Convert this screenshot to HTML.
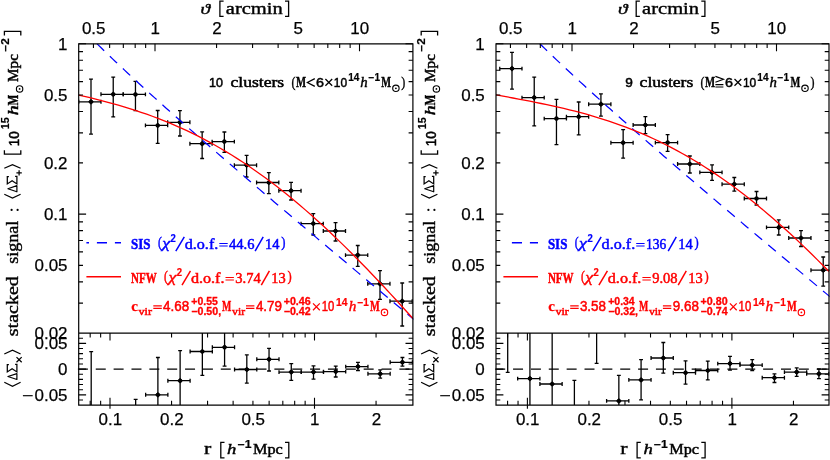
<!DOCTYPE html>
<html><head><meta charset="utf-8"><title>stacked signal</title>
<style>html,body{margin:0;padding:0;background:#fff}svg{display:block}</style></head>
<body>
<svg width="830" height="460" viewBox="0 0 830 460">
<rect width="830" height="460" fill="#fff"/>
<g opacity="0.999">
<clipPath id="c0a"><rect x="78.7" y="43.8" width="334.7" height="289.3"/></clipPath>
<clipPath id="c0b"><rect x="78.7" y="333.1" width="334.7" height="72"/></clipPath>
<line x1="77.9" y1="369.1" x2="412.9" y2="369.1" stroke="#000" stroke-width="1.2" stroke-dasharray="10 7.86"/>
<g clip-path="url(#c0a)">
<path d="M91 79.1L91 134.1M89.05 79.1L92.95 79.1M89.05 134.1L92.95 134.1M78.75 101.8L100.98 101.8M78.75 99.85L78.75 103.75M100.98 99.85L100.98 103.75" fill="none" stroke="#000" stroke-width="1.3"/>
<path d="M88.15 101.8L91 98.95L93.85 101.8L91 104.65Z" fill="#000"/><circle cx="91" cy="101.8" r="2" fill="#000"/>
<path d="M113.23 77.1L113.23 116.8M111.28 77.1L115.18 77.1M111.28 116.8L115.18 116.8M100.98 94.3L123.21 94.3M100.98 92.35L100.98 96.25M123.21 92.35L123.21 96.25" fill="none" stroke="#000" stroke-width="1.3"/>
<path d="M110.38 94.3L113.23 91.45L116.08 94.3L113.23 97.15Z" fill="#000"/><circle cx="113.23" cy="94.3" r="2" fill="#000"/>
<path d="M135.46 81.3L135.46 110.7M133.51 81.3L137.41 81.3M133.51 110.7L137.41 110.7M123.21 94.4L145.44 94.4M123.21 92.45L123.21 96.35M145.44 92.45L145.44 96.35" fill="none" stroke="#000" stroke-width="1.3"/>
<path d="M132.61 94.4L135.46 91.55L138.31 94.4L135.46 97.25Z" fill="#000"/><circle cx="135.46" cy="94.4" r="2" fill="#000"/>
<path d="M157.69 110.5L157.69 143.3M155.74 110.5L159.64 110.5M155.74 143.3L159.64 143.3M145.44 125.4L167.67 125.4M145.44 123.45L145.44 127.35M167.67 123.45L167.67 127.35" fill="none" stroke="#000" stroke-width="1.3"/>
<path d="M154.84 125.4L157.69 122.55L160.54 125.4L157.69 128.25Z" fill="#000"/><circle cx="157.69" cy="125.4" r="2" fill="#000"/>
<path d="M179.92 110.6L179.92 136M177.97 110.6L181.87 110.6M177.97 136L181.87 136M167.67 122.3L189.9 122.3M167.67 120.35L167.67 124.25M189.9 120.35L189.9 124.25" fill="none" stroke="#000" stroke-width="1.3"/>
<path d="M177.07 122.3L179.92 119.45L182.77 122.3L179.92 125.15Z" fill="#000"/><circle cx="179.92" cy="122.3" r="2" fill="#000"/>
<path d="M202.15 131.8L202.15 158.5M200.2 131.8L204.1 131.8M200.2 158.5L204.1 158.5M189.9 143.7L212.13 143.7M189.9 141.75L189.9 145.65M212.13 141.75L212.13 145.65" fill="none" stroke="#000" stroke-width="1.3"/>
<path d="M199.3 143.7L202.15 140.85L205 143.7L202.15 146.55Z" fill="#000"/><circle cx="202.15" cy="143.7" r="2" fill="#000"/>
<path d="M224.38 132L224.38 152.4M222.43 132L226.33 132M222.43 152.4L226.33 152.4M212.13 141.6L234.36 141.6M212.13 139.65L212.13 143.55M234.36 139.65L234.36 143.55" fill="none" stroke="#000" stroke-width="1.3"/>
<path d="M221.53 141.6L224.38 138.75L227.23 141.6L224.38 144.45Z" fill="#000"/><circle cx="224.38" cy="141.6" r="2" fill="#000"/>
<path d="M246.61 155.4L246.61 177M244.66 155.4L248.56 155.4M244.66 177L248.56 177M234.36 165.2L256.59 165.2M234.36 163.25L234.36 167.15M256.59 163.25L256.59 167.15" fill="none" stroke="#000" stroke-width="1.3"/>
<path d="M243.76 165.2L246.61 162.35L249.46 165.2L246.61 168.05Z" fill="#000"/><circle cx="246.61" cy="165.2" r="2" fill="#000"/>
<path d="M268.84 172.6L268.84 193.6M266.89 172.6L270.79 172.6M266.89 193.6L270.79 193.6M256.59 182.5L278.82 182.5M256.59 180.55L256.59 184.45M278.82 180.55L278.82 184.45" fill="none" stroke="#000" stroke-width="1.3"/>
<path d="M265.99 182.5L268.84 179.65L271.69 182.5L268.84 185.35Z" fill="#000"/><circle cx="268.84" cy="182.5" r="2" fill="#000"/>
<path d="M291.07 182.3L291.07 200M289.12 182.3L293.02 182.3M289.12 200L293.02 200M278.82 190.7L301.05 190.7M278.82 188.75L278.82 192.65M301.05 188.75L301.05 192.65" fill="none" stroke="#000" stroke-width="1.3"/>
<path d="M288.22 190.7L291.07 187.85L293.92 190.7L291.07 193.55Z" fill="#000"/><circle cx="291.07" cy="190.7" r="2" fill="#000"/>
<path d="M313.3 213.6L313.3 235M311.35 213.6L315.25 213.6M311.35 235L315.25 235M301.05 223.6L323.28 223.6M301.05 221.65L301.05 225.55M323.28 221.65L323.28 225.55" fill="none" stroke="#000" stroke-width="1.3"/>
<path d="M310.45 223.6L313.3 220.75L316.15 223.6L313.3 226.45Z" fill="#000"/><circle cx="313.3" cy="223.6" r="2" fill="#000"/>
<path d="M335.53 222.6L335.53 241M333.58 222.6L337.48 222.6M333.58 241L337.48 241M323.28 231L345.51 231M323.28 229.05L323.28 232.95M345.51 229.05L345.51 232.95" fill="none" stroke="#000" stroke-width="1.3"/>
<path d="M332.68 231L335.53 228.15L338.38 231L335.53 233.85Z" fill="#000"/><circle cx="335.53" cy="231" r="2" fill="#000"/>
<path d="M357.76 245.5L357.76 266.3M355.81 245.5L359.71 245.5M355.81 266.3L359.71 266.3M345.51 255.1L367.74 255.1M345.51 253.15L345.51 257.05M367.74 253.15L367.74 257.05" fill="none" stroke="#000" stroke-width="1.3"/>
<path d="M354.91 255.1L357.76 252.25L360.61 255.1L357.76 257.95Z" fill="#000"/><circle cx="357.76" cy="255.1" r="2" fill="#000"/>
<path d="M379.99 270.6L379.99 299.3M378.04 270.6L381.94 270.6M378.04 299.3L381.94 299.3M367.74 283.8L389.97 283.8M367.74 281.85L367.74 285.75M389.97 281.85L389.97 285.75" fill="none" stroke="#000" stroke-width="1.3"/>
<path d="M377.14 283.8L379.99 280.95L382.84 283.8L379.99 286.65Z" fill="#000"/><circle cx="379.99" cy="283.8" r="2" fill="#000"/>
<path d="M402.22 283L402.22 326M400.27 283L404.17 283M400.27 326L404.17 326M389.97 301.2L412.2 301.2M389.97 299.25L389.97 303.15M412.2 299.25L412.2 303.15" fill="none" stroke="#000" stroke-width="1.3"/>
<path d="M399.37 301.2L402.22 298.35L405.07 301.2L402.22 304.05Z" fill="#000"/><circle cx="402.22" cy="301.2" r="2" fill="#000"/>
</g>
<g clip-path="url(#c0b)">
<path d="M91.2 351.7L91.2 405.1M89.25 351.7L93.15 351.7" fill="none" stroke="#000" stroke-width="1.3"/>
<path d="M135.66 399.4L135.66 405.1M133.71 399.4L137.61 399.4" fill="none" stroke="#000" stroke-width="1.3"/>
<path d="M157.89 357.5L157.89 405.1M155.94 357.5L159.84 357.5M145.64 394.8L167.87 394.8M145.64 392.85L145.64 396.75M167.87 392.85L167.87 396.75" fill="none" stroke="#000" stroke-width="1.3"/>
<path d="M155.04 394.8L157.89 391.95L160.74 394.8L157.89 397.65Z" fill="#000"/><circle cx="157.89" cy="394.8" r="2" fill="#000"/>
<path d="M180.12 350.6L180.12 405.1M178.17 350.6L182.07 350.6M167.87 380.7L190.1 380.7M167.87 378.75L167.87 382.65M190.1 378.75L190.1 382.65" fill="none" stroke="#000" stroke-width="1.3"/>
<path d="M177.27 380.7L180.12 377.85L182.97 380.7L180.12 383.55Z" fill="#000"/><circle cx="180.12" cy="380.7" r="2" fill="#000"/>
<path d="M202.35 333.1L202.35 375.3M200.4 375.3L204.3 375.3M190.1 351.5L212.33 351.5M190.1 349.55L190.1 353.45M212.33 349.55L212.33 353.45" fill="none" stroke="#000" stroke-width="1.3"/>
<path d="M199.5 351.5L202.35 348.65L205.2 351.5L202.35 354.35Z" fill="#000"/><circle cx="202.35" cy="351.5" r="2" fill="#000"/>
<path d="M224.58 333.1L224.58 366.2M222.63 366.2L226.53 366.2M212.33 347.3L234.56 347.3M212.33 345.35L212.33 349.25M234.56 345.35L234.56 349.25" fill="none" stroke="#000" stroke-width="1.3"/>
<path d="M221.73 347.3L224.58 344.45L227.43 347.3L224.58 350.15Z" fill="#000"/><circle cx="224.58" cy="347.3" r="2" fill="#000"/>
<path d="M246.81 354.9L246.81 383.1M244.86 354.9L248.76 354.9M244.86 383.1L248.76 383.1M234.56 369.5L256.79 369.5M234.56 367.55L234.56 371.45M256.79 367.55L256.79 371.45" fill="none" stroke="#000" stroke-width="1.3"/>
<path d="M243.96 369.5L246.81 366.65L249.66 369.5L246.81 372.35Z" fill="#000"/><circle cx="246.81" cy="369.5" r="2" fill="#000"/>
<path d="M269.04 348.4L269.04 371M267.09 348.4L270.99 348.4M267.09 371L270.99 371M256.79 359.3L279.02 359.3M256.79 357.35L256.79 361.25M279.02 357.35L279.02 361.25" fill="none" stroke="#000" stroke-width="1.3"/>
<path d="M266.19 359.3L269.04 356.45L271.89 359.3L269.04 362.15Z" fill="#000"/><circle cx="269.04" cy="359.3" r="2" fill="#000"/>
<path d="M291.27 363.6L291.27 380.3M289.32 363.6L293.22 363.6M289.32 380.3L293.22 380.3M279.02 372.1L301.25 372.1M279.02 370.15L279.02 374.05M301.25 370.15L301.25 374.05" fill="none" stroke="#000" stroke-width="1.3"/>
<path d="M288.42 372.1L291.27 369.25L294.12 372.1L291.27 374.95Z" fill="#000"/><circle cx="291.27" cy="372.1" r="2" fill="#000"/>
<path d="M313.5 365.8L313.5 379.2M311.55 365.8L315.45 365.8M311.55 379.2L315.45 379.2M301.25 372.1L323.48 372.1M301.25 370.15L301.25 374.05M323.48 370.15L323.48 374.05" fill="none" stroke="#000" stroke-width="1.3"/>
<path d="M310.65 372.1L313.5 369.25L316.35 372.1L313.5 374.95Z" fill="#000"/><circle cx="313.5" cy="372.1" r="2" fill="#000"/>
<path d="M335.73 366.2L335.73 377M333.78 366.2L337.68 366.2M333.78 377L337.68 377M323.48 371.6L345.71 371.6M323.48 369.65L323.48 373.55M345.71 369.65L345.71 373.55" fill="none" stroke="#000" stroke-width="1.3"/>
<path d="M332.88 371.6L335.73 368.75L338.58 371.6L335.73 374.45Z" fill="#000"/><circle cx="335.73" cy="371.6" r="2" fill="#000"/>
<path d="M357.96 362.3L357.96 370.5M356.01 362.3L359.91 362.3M356.01 370.5L359.91 370.5M345.71 366.6L367.94 366.6M345.71 364.65L345.71 368.55M367.94 364.65L367.94 368.55" fill="none" stroke="#000" stroke-width="1.3"/>
<path d="M355.11 366.6L357.96 363.75L360.81 366.6L357.96 369.45Z" fill="#000"/><circle cx="357.96" cy="366.6" r="2" fill="#000"/>
<path d="M380.19 369.9L380.19 378.1M378.24 369.9L382.14 369.9M378.24 378.1L382.14 378.1M367.94 373.8L390.17 373.8M367.94 371.85L367.94 375.75M390.17 371.85L390.17 375.75" fill="none" stroke="#000" stroke-width="1.3"/>
<path d="M377.34 373.8L380.19 370.95L383.04 373.8L380.19 376.65Z" fill="#000"/><circle cx="380.19" cy="373.8" r="2" fill="#000"/>
<path d="M402.42 357.5L402.42 366.2M400.47 357.5L404.37 357.5M400.47 366.2L404.37 366.2M390.17 362.3L412.4 362.3M390.17 360.35L390.17 364.25M412.4 360.35L412.4 364.25" fill="none" stroke="#000" stroke-width="1.3"/>
<path d="M399.57 362.3L402.42 359.45L405.27 362.3L402.42 365.15Z" fill="#000"/><circle cx="402.42" cy="362.3" r="2" fill="#000"/>
</g>
<g clip-path="url(#c0a)">
<path d="M97.02 43.8L97.61 44.38L100.61 47.31L103.6 50.21L106.59 53.1L109.59 55.98L112.58 58.84L115.57 61.68L118.57 64.51L121.56 67.33L124.55 70.14L127.55 72.94L130.54 75.72L133.53 78.5L136.53 81.26L139.52 84.01L142.51 86.76L145.51 89.49L148.5 92.22L151.49 94.94L154.48 97.65L157.48 100.35L160.47 103.04L163.46 105.73L166.46 108.41L169.45 111.09L172.44 113.75L175.44 116.41L178.43 119.07L181.42 121.72L184.42 124.36L187.41 127L190.4 129.64L193.4 132.26L196.39 134.89L199.38 137.51L202.38 140.12L205.37 142.73L208.36 145.34L211.36 147.94L214.35 150.54L217.34 153.14L220.34 155.73L223.33 158.32L226.32 160.9L229.32 163.48L232.31 166.06L235.3 168.64L238.3 171.21L241.29 173.78L244.28 176.35L247.28 178.91L250.27 181.47L253.26 184.03L256.26 186.59L259.25 189.15L262.24 191.7L265.24 194.25L268.23 196.8L271.22 199.35L274.22 201.9L277.21 204.44L280.2 206.98L283.2 209.52L286.19 212.06L289.18 214.6L292.18 217.13L295.17 219.67L298.16 222.2L301.16 224.73L304.15 227.26L307.14 229.79L310.14 232.32L313.13 234.85L316.12 237.37L319.12 239.9L322.11 242.42L325.1 244.94L328.09 247.46L331.09 249.98L334.08 252.5L337.07 255.02L340.07 257.54L343.06 260.06L346.05 262.57L349.05 265.09L352.04 267.6L355.03 270.12L358.03 272.63L361.02 275.14L364.01 277.65L367.01 280.16L370 282.67L372.99 285.18L375.99 287.69L378.98 290.2L381.97 292.71L384.97 295.22L387.96 297.73L390.95 300.23L393.95 302.74L396.94 305.24L399.93 307.75L402.93 310.25L405.92 312.76L408.91 315.26L411.91 317.77L414.9 320.27" fill="none" stroke="#0000ff" stroke-width="1.25" stroke-dasharray="10 7.9"/>
<path d="M78.7 95.08L84.36 96.38L90.03 97.72L95.69 99.11L101.36 100.54L107.02 102.02L112.69 103.56L118.35 105.16L124.02 106.83L129.68 108.56L135.34 110.37L141.01 112.26L146.67 114.22L152.34 116.26L158 118.4L163.67 120.62L169.33 122.93L174.99 125.34L180.66 127.84L186.32 130.44L191.99 133.14L197.65 135.95L203.32 138.86L208.98 141.88L214.65 145L220.31 148.23L225.97 151.57L231.64 155.02L237.3 158.58L242.97 162.25L248.63 166.03L254.3 169.92L259.96 173.92L265.63 178.04L271.29 182.26L276.95 186.59L282.62 191.04L288.28 195.59L293.95 200.24L299.61 205L305.28 209.87L310.94 214.83L316.61 219.9L322.27 225.06L327.93 230.32L333.6 235.67L339.26 241.11L344.93 246.64L350.59 252.25L356.26 257.94L361.92 263.72L367.58 269.56L373.25 275.48L378.91 281.46L384.58 287.51L390.24 293.61L395.91 299.77L401.57 305.98L407.24 312.23L412.9 318.52" fill="none" stroke="#ff0000" stroke-width="1.3"/>
</g>
<path d="M78.7 43.8H412.9V405.1H78.7Z M78.7 333.1H412.9" fill="none" stroke="#000" stroke-width="1.2"/>
<path d="M93.44 43.8v4.3M109.63 43.8v4.3M123.32 43.8v4.3M135.18 43.8v4.3M145.64 43.8v4.3M155 43.8v7.4M216.56 43.8v4.3M252.57 43.8v4.3M278.12 43.8v4.3M297.94 43.8v4.3M314.13 43.8v4.3M327.82 43.8v4.3M339.68 43.8v4.3M350.14 43.8v4.3M359.5 43.8v7.4M90.18 333.1v4.3M90.18 405.1v-4.3M100.64 333.1v4.3M100.64 405.1v-4.3M110 333.1v7.4M110 397.7V408.7M171.56 333.1v4.3M171.56 405.1v-4.3M207.57 333.1v4.3M207.57 405.1v-4.3M233.12 333.1v4.3M233.12 405.1v-4.3M252.94 333.1v4.3M252.94 405.1v-4.3M269.13 333.1v4.3M269.13 405.1v-4.3M282.82 333.1v4.3M282.82 405.1v-4.3M294.68 333.1v4.3M294.68 405.1v-4.3M305.14 333.1v4.3M305.14 405.1v-4.3M314.5 333.1v7.4M314.5 397.7V408.7M376.06 333.1v4.3M376.06 405.1v-4.3M78.7 303.15h4.3M412.9 303.15h-4.3M78.7 281.87h4.3M412.9 281.87h-4.3M78.7 265.37h4.3M412.9 265.37h-4.3M78.7 251.88h4.3M412.9 251.88h-4.3M78.7 240.48h4.3M412.9 240.48h-4.3M78.7 230.6h4.3M412.9 230.6h-4.3M78.7 221.89h4.3M412.9 221.89h-4.3M78.7 214.1h7.4M412.9 214.1h-7.4M78.7 162.83h4.3M412.9 162.83h-4.3M78.7 132.85h4.3M412.9 132.85h-4.3M78.7 111.57h4.3M412.9 111.57h-4.3M78.7 95.07h4.3M412.9 95.07h-4.3M78.7 81.58h4.3M412.9 81.58h-4.3M78.7 70.18h4.3M412.9 70.18h-4.3M78.7 60.3h4.3M412.9 60.3h-4.3M78.7 51.59h4.3M412.9 51.59h-4.3M78.7 43.8h7.4M412.9 43.8h-7.4M78.7 400h4.3M412.9 400h-4.3M78.7 394.85h7.4M412.9 394.85h-7.4M78.7 389.7h4.3M412.9 389.7h-4.3M78.7 384.55h4.3M412.9 384.55h-4.3M78.7 379.4h4.3M412.9 379.4h-4.3M78.7 374.25h4.3M412.9 374.25h-4.3M78.7 369.1h7.4M412.9 369.1h-7.4M78.7 363.95h4.3M412.9 363.95h-4.3M78.7 358.8h4.3M412.9 358.8h-4.3M78.7 353.65h4.3M412.9 353.65h-4.3M78.7 348.5h4.3M412.9 348.5h-4.3M78.7 343.35h7.4M412.9 343.35h-7.4M78.7 338.2h4.3M412.9 338.2h-4.3" fill="none" stroke="#000" stroke-width="1.1"/>
<text x="81.95" y="34" textLength="23.57" lengthAdjust="spacingAndGlyphs" font-family='"Liberation Sans", sans-serif' font-size="16.3" font-weight="normal" font-style="normal" fill="#000" stroke="#000" stroke-width="0.25">0.5</text>
<text x="150.59" y="34" textLength="9.43" lengthAdjust="spacingAndGlyphs" font-family='"Liberation Sans", sans-serif' font-size="16.3" font-weight="normal" font-style="normal" fill="#000" stroke="#000" stroke-width="0.25">1</text>
<text x="212.15" y="34" textLength="9.43" lengthAdjust="spacingAndGlyphs" font-family='"Liberation Sans", sans-serif' font-size="16.3" font-weight="normal" font-style="normal" fill="#000" stroke="#000" stroke-width="0.25">2</text>
<text x="293.53" y="34" textLength="9.43" lengthAdjust="spacingAndGlyphs" font-family='"Liberation Sans", sans-serif' font-size="16.3" font-weight="normal" font-style="normal" fill="#000" stroke="#000" stroke-width="0.25">5</text>
<text x="350.37" y="34" textLength="18.86" lengthAdjust="spacingAndGlyphs" font-family='"Liberation Sans", sans-serif' font-size="16.3" font-weight="normal" font-style="normal" fill="#000" stroke="#000" stroke-width="0.25">10</text>
<text x="98.51" y="424.6" textLength="23.57" lengthAdjust="spacingAndGlyphs" font-family='"Liberation Sans", sans-serif' font-size="16.3" font-weight="normal" font-style="normal" fill="#000" stroke="#000" stroke-width="0.25">0.1</text>
<text x="160.07" y="424.6" textLength="23.57" lengthAdjust="spacingAndGlyphs" font-family='"Liberation Sans", sans-serif' font-size="16.3" font-weight="normal" font-style="normal" fill="#000" stroke="#000" stroke-width="0.25">0.2</text>
<text x="241.45" y="424.6" textLength="23.57" lengthAdjust="spacingAndGlyphs" font-family='"Liberation Sans", sans-serif' font-size="16.3" font-weight="normal" font-style="normal" fill="#000" stroke="#000" stroke-width="0.25">0.5</text>
<text x="310.09" y="424.6" textLength="9.43" lengthAdjust="spacingAndGlyphs" font-family='"Liberation Sans", sans-serif' font-size="16.3" font-weight="normal" font-style="normal" fill="#000" stroke="#000" stroke-width="0.25">1</text>
<text x="371.65" y="424.6" textLength="9.43" lengthAdjust="spacingAndGlyphs" font-family='"Liberation Sans", sans-serif' font-size="16.3" font-weight="normal" font-style="normal" fill="#000" stroke="#000" stroke-width="0.25">2</text>
<text x="58.07" y="49.65" textLength="9.43" lengthAdjust="spacingAndGlyphs" font-family='"Liberation Sans", sans-serif' font-size="16.3" font-weight="normal" font-style="normal" fill="#000" stroke="#000" stroke-width="0.25">1</text>
<text x="43.93" y="100.92" textLength="23.57" lengthAdjust="spacingAndGlyphs" font-family='"Liberation Sans", sans-serif' font-size="16.3" font-weight="normal" font-style="normal" fill="#000" stroke="#000" stroke-width="0.25">0.5</text>
<text x="43.93" y="168.68" textLength="23.57" lengthAdjust="spacingAndGlyphs" font-family='"Liberation Sans", sans-serif' font-size="16.3" font-weight="normal" font-style="normal" fill="#000" stroke="#000" stroke-width="0.25">0.2</text>
<text x="43.93" y="219.95" textLength="23.57" lengthAdjust="spacingAndGlyphs" font-family='"Liberation Sans", sans-serif' font-size="16.3" font-weight="normal" font-style="normal" fill="#000" stroke="#000" stroke-width="0.25">0.1</text>
<text x="34.5" y="271.22" textLength="33" lengthAdjust="spacingAndGlyphs" font-family='"Liberation Sans", sans-serif' font-size="16.3" font-weight="normal" font-style="normal" fill="#000" stroke="#000" stroke-width="0.25">0.05</text>
<text x="34.5" y="338.98" textLength="33" lengthAdjust="spacingAndGlyphs" font-family='"Liberation Sans", sans-serif' font-size="16.3" font-weight="normal" font-style="normal" fill="#000" stroke="#000" stroke-width="0.25">0.02</text>
<text x="34.5" y="349.2" textLength="33" lengthAdjust="spacingAndGlyphs" font-family='"Liberation Sans", sans-serif' font-size="16.3" font-weight="normal" font-style="normal" fill="#000" stroke="#000" stroke-width="0.25">0.05</text>
<text x="58.07" y="374.95" textLength="9.43" lengthAdjust="spacingAndGlyphs" font-family='"Liberation Sans", sans-serif' font-size="16.3" font-weight="normal" font-style="normal" fill="#000" stroke="#000" stroke-width="0.25">0</text>
<text x="34.5" y="400.7" textLength="33" lengthAdjust="spacingAndGlyphs" font-family='"Liberation Sans", sans-serif' font-size="16.3" font-weight="normal" font-style="normal" fill="#000" stroke="#000" stroke-width="0.25">0.05</text>
<line x1="22.9" y1="395.7" x2="32.7" y2="395.7" stroke="#000" stroke-width="1.15"/>
<clipPath id="c1a"><rect x="496" y="43.8" width="333.5" height="289.3"/></clipPath>
<clipPath id="c1b"><rect x="496" y="333.1" width="333.5" height="72"/></clipPath>
<line x1="495.2" y1="369.1" x2="829" y2="369.1" stroke="#000" stroke-width="1.2" stroke-dasharray="10 7.86"/>
<g clip-path="url(#c1a)">
<path d="M512 52.4L512 89.2M510.05 52.4L513.95 52.4M510.05 89.2L513.95 89.2M499.75 68.6L521.98 68.6M499.75 66.65L499.75 70.55M521.98 66.65L521.98 70.55" fill="none" stroke="#000" stroke-width="1.3"/>
<path d="M509.15 68.6L512 65.75L514.85 68.6L512 71.45Z" fill="#000"/><circle cx="512" cy="68.6" r="2" fill="#000"/>
<path d="M534.23 77.1L534.23 125.8M532.28 77.1L536.18 77.1M532.28 125.8L536.18 125.8M521.98 97.6L544.21 97.6M521.98 95.65L521.98 99.55M544.21 95.65L544.21 99.55" fill="none" stroke="#000" stroke-width="1.3"/>
<path d="M531.38 97.6L534.23 94.75L537.08 97.6L534.23 100.45Z" fill="#000"/><circle cx="534.23" cy="97.6" r="2" fill="#000"/>
<path d="M556.46 99.3L556.46 144.6M554.51 99.3L558.41 99.3M554.51 144.6L558.41 144.6M544.21 118.6L566.44 118.6M544.21 116.65L544.21 120.55M566.44 116.65L566.44 120.55" fill="none" stroke="#000" stroke-width="1.3"/>
<path d="M553.61 118.6L556.46 115.75L559.31 118.6L556.46 121.45Z" fill="#000"/><circle cx="556.46" cy="118.6" r="2" fill="#000"/>
<path d="M578.69 102L578.69 134.8M576.74 102L580.64 102M576.74 134.8L580.64 134.8M566.44 116.7L588.67 116.7M566.44 114.75L566.44 118.65M588.67 114.75L588.67 118.65" fill="none" stroke="#000" stroke-width="1.3"/>
<path d="M575.84 116.7L578.69 113.85L581.54 116.7L578.69 119.55Z" fill="#000"/><circle cx="578.69" cy="116.7" r="2" fill="#000"/>
<path d="M600.92 93.9L600.92 116.1M598.97 93.9L602.87 93.9M598.97 116.1L602.87 116.1M588.67 104.2L610.9 104.2M588.67 102.25L588.67 106.15M610.9 102.25L610.9 106.15" fill="none" stroke="#000" stroke-width="1.3"/>
<path d="M598.07 104.2L600.92 101.35L603.77 104.2L600.92 107.05Z" fill="#000"/><circle cx="600.92" cy="104.2" r="2" fill="#000"/>
<path d="M623.15 129.7L623.15 158.2M621.2 129.7L625.1 129.7M621.2 158.2L625.1 158.2M610.9 142.7L633.13 142.7M610.9 140.75L610.9 144.65M633.13 140.75L633.13 144.65" fill="none" stroke="#000" stroke-width="1.3"/>
<path d="M620.3 142.7L623.15 139.85L626 142.7L623.15 145.55Z" fill="#000"/><circle cx="623.15" cy="142.7" r="2" fill="#000"/>
<path d="M645.38 116.6L645.38 133.6M643.43 116.6L647.33 116.6M643.43 133.6L647.33 133.6M633.13 125L655.36 125M633.13 123.05L633.13 126.95M655.36 123.05L655.36 126.95" fill="none" stroke="#000" stroke-width="1.3"/>
<path d="M642.53 125L645.38 122.15L648.23 125L645.38 127.85Z" fill="#000"/><circle cx="645.38" cy="125" r="2" fill="#000"/>
<path d="M667.61 134.6L667.61 151.4M665.66 134.6L669.56 134.6M665.66 151.4L669.56 151.4M655.36 142.6L677.59 142.6M655.36 140.65L655.36 144.55M677.59 140.65L677.59 144.55" fill="none" stroke="#000" stroke-width="1.3"/>
<path d="M664.76 142.6L667.61 139.75L670.46 142.6L667.61 145.45Z" fill="#000"/><circle cx="667.61" cy="142.6" r="2" fill="#000"/>
<path d="M689.84 156L689.84 173M687.89 156L691.79 156M687.89 173L691.79 173M677.59 164L699.82 164M677.59 162.05L677.59 165.95M699.82 162.05L699.82 165.95" fill="none" stroke="#000" stroke-width="1.3"/>
<path d="M686.99 164L689.84 161.15L692.69 164L689.84 166.85Z" fill="#000"/><circle cx="689.84" cy="164" r="2" fill="#000"/>
<path d="M712.07 164.9L712.07 180.3M710.12 164.9L714.02 164.9M710.12 180.3L714.02 180.3M699.82 172.4L722.05 172.4M699.82 170.45L699.82 174.35M722.05 170.45L722.05 174.35" fill="none" stroke="#000" stroke-width="1.3"/>
<path d="M709.22 172.4L712.07 169.55L714.92 172.4L712.07 175.25Z" fill="#000"/><circle cx="712.07" cy="172.4" r="2" fill="#000"/>
<path d="M734.3 177.5L734.3 191.1M732.35 177.5L736.25 177.5M732.35 191.1L736.25 191.1M722.05 184.2L744.28 184.2M722.05 182.25L722.05 186.15M744.28 182.25L744.28 186.15" fill="none" stroke="#000" stroke-width="1.3"/>
<path d="M731.45 184.2L734.3 181.35L737.15 184.2L734.3 187.05Z" fill="#000"/><circle cx="734.3" cy="184.2" r="2" fill="#000"/>
<path d="M756.53 191.5L756.53 205M754.58 191.5L758.48 191.5M754.58 205L758.48 205M744.28 198.5L766.51 198.5M744.28 196.55L744.28 200.45M766.51 196.55L766.51 200.45" fill="none" stroke="#000" stroke-width="1.3"/>
<path d="M753.68 198.5L756.53 195.65L759.38 198.5L756.53 201.35Z" fill="#000"/><circle cx="756.53" cy="198.5" r="2" fill="#000"/>
<path d="M778.76 219.8L778.76 235M776.81 219.8L780.71 219.8M776.81 235L780.71 235M766.51 227.4L788.74 227.4M766.51 225.45L766.51 229.35M788.74 225.45L788.74 229.35" fill="none" stroke="#000" stroke-width="1.3"/>
<path d="M775.91 227.4L778.76 224.55L781.61 227.4L778.76 230.25Z" fill="#000"/><circle cx="778.76" cy="227.4" r="2" fill="#000"/>
<path d="M800.99 230.7L800.99 246.5M799.04 230.7L802.94 230.7M799.04 246.5L802.94 246.5M788.74 238L810.97 238M788.74 236.05L788.74 239.95M810.97 236.05L810.97 239.95" fill="none" stroke="#000" stroke-width="1.3"/>
<path d="M798.14 238L800.99 235.15L803.84 238L800.99 240.85Z" fill="#000"/><circle cx="800.99" cy="238" r="2" fill="#000"/>
<path d="M823.22 257L823.22 286.2M821.27 257L825.17 257M821.27 286.2L825.17 286.2M810.97 270.2L833.2 270.2M810.97 268.25L810.97 272.15M833.2 268.25L833.2 272.15" fill="none" stroke="#000" stroke-width="1.3"/>
<path d="M820.37 270.2L823.22 267.35L826.07 270.2L823.22 273.05Z" fill="#000"/><circle cx="823.22" cy="270.2" r="2" fill="#000"/>
</g>
<g clip-path="url(#c1b)">
<path d="M507.7 333.1L507.7 372.3M505.75 372.3L509.65 372.3" fill="none" stroke="#000" stroke-width="1.3"/>
<path d="M529.93 333.1L529.93 405.1M517.68 378.6L539.91 378.6M517.68 376.65L517.68 380.55M539.91 376.65L539.91 380.55" fill="none" stroke="#000" stroke-width="1.3"/>
<path d="M527.08 378.6L529.93 375.75L532.78 378.6L529.93 381.45Z" fill="#000"/><circle cx="529.93" cy="378.6" r="2" fill="#000"/>
<path d="M552.16 333.1L552.16 405.1M539.91 384L562.14 384M539.91 382.05L539.91 385.95M562.14 382.05L562.14 385.95" fill="none" stroke="#000" stroke-width="1.3"/>
<path d="M549.31 384L552.16 381.15L555.01 384L552.16 386.85Z" fill="#000"/><circle cx="552.16" cy="384" r="2" fill="#000"/>
<path d="M574.39 380.3L574.39 405.1M572.44 380.3L576.34 380.3" fill="none" stroke="#000" stroke-width="1.3"/>
<path d="M596.62 333.1L596.62 363.4M594.67 363.4L598.57 363.4" fill="none" stroke="#000" stroke-width="1.3"/>
<path d="M618.85 375.3L618.85 405.1M616.9 375.3L620.8 375.3M606.6 400.9L628.83 400.9M606.6 398.95L606.6 402.85M628.83 398.95L628.83 402.85" fill="none" stroke="#000" stroke-width="1.3"/>
<path d="M616 400.9L618.85 398.05L621.7 400.9L618.85 403.75Z" fill="#000"/><circle cx="618.85" cy="400.9" r="2" fill="#000"/>
<path d="M641.08 359.7L641.08 399.8M639.13 359.7L643.03 359.7M639.13 399.8L643.03 399.8M628.83 379.9L651.06 379.9M628.83 377.95L628.83 381.85M651.06 377.95L651.06 381.85" fill="none" stroke="#000" stroke-width="1.3"/>
<path d="M638.23 379.9L641.08 377.05L643.93 379.9L641.08 382.75Z" fill="#000"/><circle cx="641.08" cy="379.9" r="2" fill="#000"/>
<path d="M663.31 342.5L663.31 373.1M661.36 342.5L665.26 342.5M661.36 373.1L665.26 373.1M651.06 358L673.29 358M651.06 356.05L651.06 359.95M673.29 356.05L673.29 359.95" fill="none" stroke="#000" stroke-width="1.3"/>
<path d="M660.46 358L663.31 355.15L666.16 358L663.31 360.85Z" fill="#000"/><circle cx="663.31" cy="358" r="2" fill="#000"/>
<path d="M685.54 360.8L685.54 384.2M683.59 360.8L687.49 360.8M683.59 384.2L687.49 384.2M673.29 372.7L695.52 372.7M673.29 370.75L673.29 374.65M695.52 370.75L695.52 374.65" fill="none" stroke="#000" stroke-width="1.3"/>
<path d="M682.69 372.7L685.54 369.85L688.39 372.7L685.54 375.55Z" fill="#000"/><circle cx="685.54" cy="372.7" r="2" fill="#000"/>
<path d="M707.77 361.2L707.77 379.9M705.82 361.2L709.72 361.2M705.82 379.9L709.72 379.9M695.52 370.5L717.75 370.5M695.52 368.55L695.52 372.45M717.75 368.55L717.75 372.45" fill="none" stroke="#000" stroke-width="1.3"/>
<path d="M704.92 370.5L707.77 367.65L710.62 370.5L707.77 373.35Z" fill="#000"/><circle cx="707.77" cy="370.5" r="2" fill="#000"/>
<path d="M730 356.4L730 370.1M728.05 356.4L731.95 356.4M728.05 370.1L731.95 370.1M717.75 363.6L739.98 363.6M717.75 361.65L717.75 365.55M739.98 361.65L739.98 365.55" fill="none" stroke="#000" stroke-width="1.3"/>
<path d="M727.15 363.6L730 360.75L732.85 363.6L730 366.45Z" fill="#000"/><circle cx="730" cy="363.6" r="2" fill="#000"/>
<path d="M752.23 359.7L752.23 370.5M750.28 359.7L754.18 359.7M750.28 370.5L754.18 370.5M739.98 365.1L762.21 365.1M739.98 363.15L739.98 367.05M762.21 363.15L762.21 367.05" fill="none" stroke="#000" stroke-width="1.3"/>
<path d="M749.38 365.1L752.23 362.25L755.08 365.1L752.23 367.95Z" fill="#000"/><circle cx="752.23" cy="365.1" r="2" fill="#000"/>
<path d="M774.46 373.8L774.46 382.5M772.51 373.8L776.41 373.8M772.51 382.5L776.41 382.5M762.21 377.7L784.44 377.7M762.21 375.75L762.21 379.65M784.44 375.75L784.44 379.65" fill="none" stroke="#000" stroke-width="1.3"/>
<path d="M771.61 377.7L774.46 374.85L777.31 377.7L774.46 380.55Z" fill="#000"/><circle cx="774.46" cy="377.7" r="2" fill="#000"/>
<path d="M796.69 367.9L796.69 376.4M794.74 367.9L798.64 367.9M794.74 376.4L798.64 376.4M784.44 372.1L806.67 372.1M784.44 370.15L784.44 374.05M806.67 370.15L806.67 374.05" fill="none" stroke="#000" stroke-width="1.3"/>
<path d="M793.84 372.1L796.69 369.25L799.54 372.1L796.69 374.95Z" fill="#000"/><circle cx="796.69" cy="372.1" r="2" fill="#000"/>
<path d="M818.92 369L818.92 378.6M816.97 369L820.87 369M816.97 378.6L820.87 378.6M806.67 373.8L828.9 373.8M806.67 371.85L806.67 375.75M828.9 371.85L828.9 375.75" fill="none" stroke="#000" stroke-width="1.3"/>
<path d="M816.07 373.8L818.92 370.95L821.77 373.8L818.92 376.65Z" fill="#000"/><circle cx="818.92" cy="373.8" r="2" fill="#000"/>
</g>
<g clip-path="url(#c1a)">
<path d="M539.89 43.8L541.63 45.5L544.61 48.39L547.6 51.28L550.58 54.14L553.56 56.99L556.55 59.83L559.53 62.66L562.51 65.47L565.5 68.27L568.48 71.05L571.46 73.83L574.45 76.6L577.43 79.35L580.41 82.1L583.39 84.83L586.38 87.56L589.36 90.28L592.34 92.99L595.33 95.69L598.31 98.38L601.29 101.07L604.28 103.75L607.26 106.42L610.24 109.09L613.23 111.75L616.21 114.4L619.19 117.05L622.18 119.69L625.16 122.32L628.14 124.95L631.13 127.58L634.11 130.2L637.09 132.82L640.08 135.43L643.06 138.03L646.04 140.64L649.03 143.24L652.01 145.83L654.99 148.42L657.97 151.01L660.96 153.59L663.94 156.17L666.92 158.75L669.91 161.32L672.89 163.89L675.87 166.46L678.86 169.03L681.84 171.59L684.82 174.15L687.81 176.7L690.79 179.26L693.77 181.81L696.76 184.36L699.74 186.91L702.72 189.45L705.71 192L708.69 194.54L711.67 197.08L714.66 199.62L717.64 202.15L720.62 204.69L723.61 207.22L726.59 209.75L729.57 212.28L732.55 214.81L735.54 217.33L738.52 219.86L741.5 222.38L744.49 224.9L747.47 227.42L750.45 229.94L753.44 232.46L756.42 234.98L759.4 237.49L762.39 240.01L765.37 242.52L768.35 245.04L771.34 247.55L774.32 250.06L777.3 252.57L780.29 255.08L783.27 257.59L786.25 260.1L789.24 262.6L792.22 265.11L795.2 267.62L798.18 270.12L801.17 272.62L804.15 275.13L807.13 277.63L810.12 280.13L813.1 282.63L816.08 285.14L819.07 287.64L822.05 290.14L825.03 292.64L828.02 295.13L831 297.63" fill="none" stroke="#0000ff" stroke-width="1.25" stroke-dasharray="10 7.9"/>
<path d="M496 94.81L501.64 95.88L507.29 96.94L512.93 98L518.58 99.06L524.22 100.14L529.86 101.23L535.51 102.35L541.15 103.49L546.8 104.67L552.44 105.88L558.08 107.14L563.73 108.44L569.37 109.8L575.02 111.21L580.66 112.69L586.31 114.23L591.95 115.84L597.59 117.52L603.24 119.28L608.88 121.11L614.53 123.03L620.17 125.04L625.81 127.13L631.46 129.32L637.1 131.6L642.75 133.97L648.39 136.45L654.03 139.02L659.68 141.7L665.32 144.48L670.97 147.36L676.61 150.35L682.25 153.45L687.9 156.66L693.54 159.98L699.19 163.41L704.83 166.95L710.47 170.6L716.12 174.36L721.76 178.23L727.41 182.21L733.05 186.31L738.69 190.51L744.34 194.82L749.98 199.24L755.63 203.77L761.27 208.4L766.92 213.13L772.56 217.97L778.2 222.91L783.85 227.95L789.49 233.09L795.14 238.32L800.78 243.64L806.42 249.05L812.07 254.55L817.71 260.13L823.36 265.8L829 271.54" fill="none" stroke="#ff0000" stroke-width="1.3"/>
</g>
<path d="M496 43.8H829V405.1H496Z M496 333.1H829" fill="none" stroke="#000" stroke-width="1.2"/>
<path d="M510.44 43.8v4.3M526.63 43.8v4.3M540.32 43.8v4.3M552.18 43.8v4.3M562.64 43.8v4.3M572 43.8v7.4M633.56 43.8v4.3M669.57 43.8v4.3M695.12 43.8v4.3M714.94 43.8v4.3M731.13 43.8v4.3M744.82 43.8v4.3M756.68 43.8v4.3M767.14 43.8v4.3M776.5 43.8v7.4M507.58 333.1v4.3M507.58 405.1v-4.3M518.04 333.1v4.3M518.04 405.1v-4.3M527.4 333.1v7.4M527.4 397.7V408.7M588.96 333.1v4.3M588.96 405.1v-4.3M624.97 333.1v4.3M624.97 405.1v-4.3M650.52 333.1v4.3M650.52 405.1v-4.3M670.34 333.1v4.3M670.34 405.1v-4.3M686.53 333.1v4.3M686.53 405.1v-4.3M700.22 333.1v4.3M700.22 405.1v-4.3M712.08 333.1v4.3M712.08 405.1v-4.3M722.54 333.1v4.3M722.54 405.1v-4.3M731.9 333.1v7.4M731.9 397.7V408.7M793.46 333.1v4.3M793.46 405.1v-4.3M496 303.15h4.3M829 303.15h-4.3M496 281.87h4.3M829 281.87h-4.3M496 265.37h4.3M829 265.37h-4.3M496 251.88h4.3M829 251.88h-4.3M496 240.48h4.3M829 240.48h-4.3M496 230.6h4.3M829 230.6h-4.3M496 221.89h4.3M829 221.89h-4.3M496 214.1h7.4M829 214.1h-7.4M496 162.83h4.3M829 162.83h-4.3M496 132.85h4.3M829 132.85h-4.3M496 111.57h4.3M829 111.57h-4.3M496 95.07h4.3M829 95.07h-4.3M496 81.58h4.3M829 81.58h-4.3M496 70.18h4.3M829 70.18h-4.3M496 60.3h4.3M829 60.3h-4.3M496 51.59h4.3M829 51.59h-4.3M496 43.8h7.4M829 43.8h-7.4M496 400h4.3M829 400h-4.3M496 394.85h7.4M829 394.85h-7.4M496 389.7h4.3M829 389.7h-4.3M496 384.55h4.3M829 384.55h-4.3M496 379.4h4.3M829 379.4h-4.3M496 374.25h4.3M829 374.25h-4.3M496 369.1h7.4M829 369.1h-7.4M496 363.95h4.3M829 363.95h-4.3M496 358.8h4.3M829 358.8h-4.3M496 353.65h4.3M829 353.65h-4.3M496 348.5h4.3M829 348.5h-4.3M496 343.35h7.4M829 343.35h-7.4M496 338.2h4.3M829 338.2h-4.3" fill="none" stroke="#000" stroke-width="1.1"/>
<text x="498.95" y="34" textLength="23.57" lengthAdjust="spacingAndGlyphs" font-family='"Liberation Sans", sans-serif' font-size="16.3" font-weight="normal" font-style="normal" fill="#000" stroke="#000" stroke-width="0.25">0.5</text>
<text x="567.59" y="34" textLength="9.43" lengthAdjust="spacingAndGlyphs" font-family='"Liberation Sans", sans-serif' font-size="16.3" font-weight="normal" font-style="normal" fill="#000" stroke="#000" stroke-width="0.25">1</text>
<text x="629.15" y="34" textLength="9.43" lengthAdjust="spacingAndGlyphs" font-family='"Liberation Sans", sans-serif' font-size="16.3" font-weight="normal" font-style="normal" fill="#000" stroke="#000" stroke-width="0.25">2</text>
<text x="710.53" y="34" textLength="9.43" lengthAdjust="spacingAndGlyphs" font-family='"Liberation Sans", sans-serif' font-size="16.3" font-weight="normal" font-style="normal" fill="#000" stroke="#000" stroke-width="0.25">5</text>
<text x="767.37" y="34" textLength="18.86" lengthAdjust="spacingAndGlyphs" font-family='"Liberation Sans", sans-serif' font-size="16.3" font-weight="normal" font-style="normal" fill="#000" stroke="#000" stroke-width="0.25">10</text>
<text x="515.91" y="424.6" textLength="23.57" lengthAdjust="spacingAndGlyphs" font-family='"Liberation Sans", sans-serif' font-size="16.3" font-weight="normal" font-style="normal" fill="#000" stroke="#000" stroke-width="0.25">0.1</text>
<text x="577.47" y="424.6" textLength="23.57" lengthAdjust="spacingAndGlyphs" font-family='"Liberation Sans", sans-serif' font-size="16.3" font-weight="normal" font-style="normal" fill="#000" stroke="#000" stroke-width="0.25">0.2</text>
<text x="658.85" y="424.6" textLength="23.57" lengthAdjust="spacingAndGlyphs" font-family='"Liberation Sans", sans-serif' font-size="16.3" font-weight="normal" font-style="normal" fill="#000" stroke="#000" stroke-width="0.25">0.5</text>
<text x="727.49" y="424.6" textLength="9.43" lengthAdjust="spacingAndGlyphs" font-family='"Liberation Sans", sans-serif' font-size="16.3" font-weight="normal" font-style="normal" fill="#000" stroke="#000" stroke-width="0.25">1</text>
<text x="789.05" y="424.6" textLength="9.43" lengthAdjust="spacingAndGlyphs" font-family='"Liberation Sans", sans-serif' font-size="16.3" font-weight="normal" font-style="normal" fill="#000" stroke="#000" stroke-width="0.25">2</text>
<text x="475.37" y="49.65" textLength="9.43" lengthAdjust="spacingAndGlyphs" font-family='"Liberation Sans", sans-serif' font-size="16.3" font-weight="normal" font-style="normal" fill="#000" stroke="#000" stroke-width="0.25">1</text>
<text x="461.23" y="100.92" textLength="23.57" lengthAdjust="spacingAndGlyphs" font-family='"Liberation Sans", sans-serif' font-size="16.3" font-weight="normal" font-style="normal" fill="#000" stroke="#000" stroke-width="0.25">0.5</text>
<text x="461.23" y="168.68" textLength="23.57" lengthAdjust="spacingAndGlyphs" font-family='"Liberation Sans", sans-serif' font-size="16.3" font-weight="normal" font-style="normal" fill="#000" stroke="#000" stroke-width="0.25">0.2</text>
<text x="461.23" y="219.95" textLength="23.57" lengthAdjust="spacingAndGlyphs" font-family='"Liberation Sans", sans-serif' font-size="16.3" font-weight="normal" font-style="normal" fill="#000" stroke="#000" stroke-width="0.25">0.1</text>
<text x="451.8" y="271.22" textLength="33" lengthAdjust="spacingAndGlyphs" font-family='"Liberation Sans", sans-serif' font-size="16.3" font-weight="normal" font-style="normal" fill="#000" stroke="#000" stroke-width="0.25">0.05</text>
<text x="451.8" y="338.98" textLength="33" lengthAdjust="spacingAndGlyphs" font-family='"Liberation Sans", sans-serif' font-size="16.3" font-weight="normal" font-style="normal" fill="#000" stroke="#000" stroke-width="0.25">0.02</text>
<text x="451.8" y="349.2" textLength="33" lengthAdjust="spacingAndGlyphs" font-family='"Liberation Sans", sans-serif' font-size="16.3" font-weight="normal" font-style="normal" fill="#000" stroke="#000" stroke-width="0.25">0.05</text>
<text x="475.37" y="374.95" textLength="9.43" lengthAdjust="spacingAndGlyphs" font-family='"Liberation Sans", sans-serif' font-size="16.3" font-weight="normal" font-style="normal" fill="#000" stroke="#000" stroke-width="0.25">0</text>
<text x="451.8" y="400.7" textLength="33" lengthAdjust="spacingAndGlyphs" font-family='"Liberation Sans", sans-serif' font-size="16.3" font-weight="normal" font-style="normal" fill="#000" stroke="#000" stroke-width="0.25">0.05</text>
<line x1="440.2" y1="395.7" x2="450" y2="395.7" stroke="#000" stroke-width="1.15"/>
<text x="200.6" y="13.7" textLength="9.6" lengthAdjust="spacingAndGlyphs" font-family='"Liberation Serif", serif' font-size="15.5" font-weight="normal" font-style="italic" fill="#000" stroke="#000" stroke-width="0.4">ϑ</text>
<path d="M223.6 1.2H219.9V16.4H223.6" fill="none" stroke="#000" stroke-width="1.3"/>
<text x="225.8" y="13.7" textLength="57" lengthAdjust="spacingAndGlyphs" font-family='"Liberation Serif", serif' font-size="16.4" font-weight="normal" font-style="normal" fill="#000" stroke="#000" stroke-width="0.38">arcmin</text>
<path d="M285 1.2H288.6V16.4H285" fill="none" stroke="#000" stroke-width="1.3"/>
<text x="203.9" y="454.4" textLength="7.3" lengthAdjust="spacingAndGlyphs" font-family='"Liberation Serif", serif' font-size="16.4" font-weight="normal" font-style="normal" fill="#000" stroke="#000" stroke-width="0.38">r</text>
<path d="M224.5 442.4H220.8V457.9H224.5" fill="none" stroke="#000" stroke-width="1.3"/>
<text x="227.1" y="454.4" textLength="9.3" lengthAdjust="spacingAndGlyphs" font-family='"Liberation Serif", serif' font-size="15.6" font-weight="normal" font-style="italic" fill="#000" stroke="#000" stroke-width="0.45">h</text>
<text x="237.7" y="447.6" textLength="13.9" lengthAdjust="spacingAndGlyphs" font-family='"Liberation Sans", sans-serif' font-size="10.2" font-weight="bold" font-style="normal" fill="#000" stroke="#000" stroke-width="0.2">−1</text>
<text x="253" y="454.4" textLength="29.8" lengthAdjust="spacingAndGlyphs" font-family='"Liberation Serif", serif' font-size="15.6" font-weight="normal" font-style="normal" fill="#000" stroke="#000" stroke-width="0.5">Mpc</text>
<path d="M285 442.4H288.8V457.9H285" fill="none" stroke="#000" stroke-width="1.3"/>
<path d="M4.3 382.2L12.5 386.3L20.6 382.2" fill="none" stroke="#000" stroke-width="1.25"/>
<path d="M16.9 379.5L7.9 376.55L16.9 373.6Z" fill="none" stroke="#000" stroke-width="1.2" stroke-linejoin="round"/>
<path d="M8.9 364.6V364.6H7.3V371.9L12.1 368.7L16.9 371.9V364.3H15.1V364.3" fill="none" stroke="#000" stroke-width="1.25"/>
<path d="M4.3 354L12.5 350.1L20.6 354" fill="none" stroke="#000" stroke-width="1.25"/>
<path d="M16.5 357.1L21.7 362.3M16.5 362.3L21.7 357.1" fill="none" stroke="#000" stroke-width="1.25"/>
<path d="M4.3 194.3L12.5 198.1L20.6 194.3" fill="none" stroke="#000" stroke-width="1.25"/>
<path d="M16.9 191.8L7.9 188.7L16.9 185.6Z" fill="none" stroke="#000" stroke-width="1.2" stroke-linejoin="round"/>
<path d="M8.9 176.6V176.6H7.3V183.9L12.1 180.7L16.9 183.9V176.3H15.1V176.3" fill="none" stroke="#000" stroke-width="1.25"/>
<path d="M4.3 168.3L12.5 164.6L20.6 168.3" fill="none" stroke="#000" stroke-width="1.25"/>
<path d="M16.4 172.9H21.8M19.1 170.2V175.6" fill="none" stroke="#000" stroke-width="1.25"/>
<text transform="translate(18.4 336.2) rotate(-90)" x="0" y="0" textLength="60.1" lengthAdjust="spacingAndGlyphs" font-family='"Liberation Serif", serif' font-size="16.4" font-weight="normal" font-style="normal" fill="#000" stroke="#000" stroke-width="0.38">stacked</text>
<text transform="translate(18.4 263.8) rotate(-90)" x="0" y="0" textLength="43.2" lengthAdjust="spacingAndGlyphs" font-family='"Liberation Serif", serif' font-size="16.4" font-weight="normal" font-style="normal" fill="#000" stroke="#000" stroke-width="0.38">signal</text>
<circle cx="11.6" cy="209.9" r="1.1" fill="#000"/><circle cx="17.6" cy="209.9" r="1.1" fill="#000"/>
<path d="M4.4 150.2V154.2H20.8V150.2" fill="none" stroke="#000" stroke-width="1.3"/>
<text transform="translate(18.7 146.2) rotate(-90)" x="0" y="0" textLength="14.9" lengthAdjust="spacingAndGlyphs" font-family='"Liberation Sans", sans-serif' font-size="14.1" font-weight="normal" font-style="normal" fill="#000" stroke="#000" stroke-width="0.5">10</text>
<text transform="translate(9.3 129.2) rotate(-90)" x="0" y="0" textLength="12.1" lengthAdjust="spacingAndGlyphs" font-family='"Liberation Sans", sans-serif' font-size="10.2" font-weight="bold" font-style="normal" fill="#000" stroke="#000" stroke-width="0.2">15</text>
<text transform="translate(18.4 115.5) rotate(-90)" x="0" y="0" textLength="10.3" lengthAdjust="spacingAndGlyphs" font-family='"Liberation Serif", serif' font-size="15.6" font-weight="normal" font-style="italic" fill="#000" stroke="#000" stroke-width="0.45">h</text>
<text transform="translate(18.4 105.6) rotate(-90)" x="0" y="0" textLength="10.8" lengthAdjust="spacingAndGlyphs" font-family='"Liberation Serif", serif' font-size="14.6" font-weight="bold" fill="#000" stroke="#000" stroke-width="0.4">M</text>
<circle cx="19.6" cy="88.9" r="3.2" fill="none" stroke="#000" stroke-width="1.15"/>
<circle cx="19.6" cy="88.9" r="0.9" fill="#000"/>
<text transform="translate(18.4 81.9) rotate(-90)" x="0" y="0" textLength="27.8" lengthAdjust="spacingAndGlyphs" font-family='"Liberation Serif", serif' font-size="15.6" font-weight="normal" font-style="normal" fill="#000" stroke="#000" stroke-width="0.5">Mpc</text>
<text transform="translate(8.6 51.5) rotate(-90)" x="0" y="0" textLength="13.4" lengthAdjust="spacingAndGlyphs" font-family='"Liberation Sans", sans-serif' font-size="10.2" font-weight="bold" font-style="normal" fill="#000" stroke="#000" stroke-width="0.2">−2</text>
<path d="M4.4 35.6V31.4H20.8V35.6" fill="none" stroke="#000" stroke-width="1.3"/>
<text x="617.9" y="13.7" textLength="9.6" lengthAdjust="spacingAndGlyphs" font-family='"Liberation Serif", serif' font-size="15.5" font-weight="normal" font-style="italic" fill="#000" stroke="#000" stroke-width="0.4">ϑ</text>
<path d="M639.9 1.2H636.2V16.4H639.9" fill="none" stroke="#000" stroke-width="1.3"/>
<text x="642.1" y="13.7" textLength="57" lengthAdjust="spacingAndGlyphs" font-family='"Liberation Serif", serif' font-size="16.4" font-weight="normal" font-style="normal" fill="#000" stroke="#000" stroke-width="0.38">arcmin</text>
<path d="M701.3 1.2H704.9V16.4H701.3" fill="none" stroke="#000" stroke-width="1.3"/>
<text x="620.2" y="454.4" textLength="7.3" lengthAdjust="spacingAndGlyphs" font-family='"Liberation Serif", serif' font-size="16.4" font-weight="normal" font-style="normal" fill="#000" stroke="#000" stroke-width="0.38">r</text>
<path d="M640.8 442.4H637.1V457.9H640.8" fill="none" stroke="#000" stroke-width="1.3"/>
<text x="643.4" y="454.4" textLength="9.3" lengthAdjust="spacingAndGlyphs" font-family='"Liberation Serif", serif' font-size="15.6" font-weight="normal" font-style="italic" fill="#000" stroke="#000" stroke-width="0.45">h</text>
<text x="654" y="447.6" textLength="13.9" lengthAdjust="spacingAndGlyphs" font-family='"Liberation Sans", sans-serif' font-size="10.2" font-weight="bold" font-style="normal" fill="#000" stroke="#000" stroke-width="0.2">−1</text>
<text x="669.3" y="454.4" textLength="29.8" lengthAdjust="spacingAndGlyphs" font-family='"Liberation Serif", serif' font-size="15.6" font-weight="normal" font-style="normal" fill="#000" stroke="#000" stroke-width="0.5">Mpc</text>
<path d="M701.3 442.4H705.1V457.9H701.3" fill="none" stroke="#000" stroke-width="1.3"/>
<path d="M421.1 382.2L429.3 386.3L437.4 382.2" fill="none" stroke="#000" stroke-width="1.25"/>
<path d="M433.7 379.5L424.7 376.55L433.7 373.6Z" fill="none" stroke="#000" stroke-width="1.2" stroke-linejoin="round"/>
<path d="M425.7 364.6V364.6H424.1V371.9L428.9 368.7L433.7 371.9V364.3H431.9V364.3" fill="none" stroke="#000" stroke-width="1.25"/>
<path d="M421.1 354L429.3 350.1L437.4 354" fill="none" stroke="#000" stroke-width="1.25"/>
<path d="M433.3 357.1L438.5 362.3M433.3 362.3L438.5 357.1" fill="none" stroke="#000" stroke-width="1.25"/>
<path d="M421.1 194.3L429.3 198.1L437.4 194.3" fill="none" stroke="#000" stroke-width="1.25"/>
<path d="M433.7 191.8L424.7 188.7L433.7 185.6Z" fill="none" stroke="#000" stroke-width="1.2" stroke-linejoin="round"/>
<path d="M425.7 176.6V176.6H424.1V183.9L428.9 180.7L433.7 183.9V176.3H431.9V176.3" fill="none" stroke="#000" stroke-width="1.25"/>
<path d="M421.1 168.3L429.3 164.6L437.4 168.3" fill="none" stroke="#000" stroke-width="1.25"/>
<path d="M433.2 172.9H438.6M435.9 170.2V175.6" fill="none" stroke="#000" stroke-width="1.25"/>
<text transform="translate(435.2 336.2) rotate(-90)" x="0" y="0" textLength="60.1" lengthAdjust="spacingAndGlyphs" font-family='"Liberation Serif", serif' font-size="16.4" font-weight="normal" font-style="normal" fill="#000" stroke="#000" stroke-width="0.38">stacked</text>
<text transform="translate(435.2 263.8) rotate(-90)" x="0" y="0" textLength="43.2" lengthAdjust="spacingAndGlyphs" font-family='"Liberation Serif", serif' font-size="16.4" font-weight="normal" font-style="normal" fill="#000" stroke="#000" stroke-width="0.38">signal</text>
<circle cx="428.4" cy="209.9" r="1.1" fill="#000"/><circle cx="434.4" cy="209.9" r="1.1" fill="#000"/>
<path d="M421.2 150.2V154.2H437.6V150.2" fill="none" stroke="#000" stroke-width="1.3"/>
<text transform="translate(435.5 146.2) rotate(-90)" x="0" y="0" textLength="14.9" lengthAdjust="spacingAndGlyphs" font-family='"Liberation Sans", sans-serif' font-size="14.1" font-weight="normal" font-style="normal" fill="#000" stroke="#000" stroke-width="0.5">10</text>
<text transform="translate(426.1 129.2) rotate(-90)" x="0" y="0" textLength="12.1" lengthAdjust="spacingAndGlyphs" font-family='"Liberation Sans", sans-serif' font-size="10.2" font-weight="bold" font-style="normal" fill="#000" stroke="#000" stroke-width="0.2">15</text>
<text transform="translate(435.2 115.5) rotate(-90)" x="0" y="0" textLength="10.3" lengthAdjust="spacingAndGlyphs" font-family='"Liberation Serif", serif' font-size="15.6" font-weight="normal" font-style="italic" fill="#000" stroke="#000" stroke-width="0.45">h</text>
<text transform="translate(435.2 105.6) rotate(-90)" x="0" y="0" textLength="10.8" lengthAdjust="spacingAndGlyphs" font-family='"Liberation Serif", serif' font-size="14.6" font-weight="bold" fill="#000" stroke="#000" stroke-width="0.4">M</text>
<circle cx="436.4" cy="88.9" r="3.2" fill="none" stroke="#000" stroke-width="1.15"/>
<circle cx="436.4" cy="88.9" r="0.9" fill="#000"/>
<text transform="translate(435.2 81.9) rotate(-90)" x="0" y="0" textLength="27.8" lengthAdjust="spacingAndGlyphs" font-family='"Liberation Serif", serif' font-size="15.6" font-weight="normal" font-style="normal" fill="#000" stroke="#000" stroke-width="0.5">Mpc</text>
<text transform="translate(425.4 51.5) rotate(-90)" x="0" y="0" textLength="13.4" lengthAdjust="spacingAndGlyphs" font-family='"Liberation Sans", sans-serif' font-size="10.2" font-weight="bold" font-style="normal" fill="#000" stroke="#000" stroke-width="0.2">−2</text>
<path d="M421.2 35.6V31.4H437.6V35.6" fill="none" stroke="#000" stroke-width="1.3"/>
<text x="209" y="86.9" textLength="13.9" lengthAdjust="spacingAndGlyphs" font-family='"Liberation Sans", sans-serif' font-size="13.7" font-weight="normal" font-style="normal" fill="#000" stroke="#000" stroke-width="0.55">10</text>
<text x="230.5" y="86.9" textLength="53.7" lengthAdjust="spacingAndGlyphs" font-family='"Liberation Serif", serif' font-size="14.4" font-weight="normal" font-style="normal" fill="#000" stroke="#000" stroke-width="0.5">clusters</text>
<text x="291.5" y="86.9" textLength="4" lengthAdjust="spacingAndGlyphs" font-family='"Liberation Serif", serif' font-size="15.5" font-weight="normal" font-style="normal" fill="#000" stroke="#000" stroke-width="0.4">(</text>
<text x="295.9" y="86.9" textLength="10.1" lengthAdjust="spacingAndGlyphs" font-family='"Liberation Serif", serif' font-size="14.4" font-weight="bold" fill="#000" stroke="#000" stroke-width="0.4">M</text>
<path d="M314.8 78.6L307.4 82.5L314.8 86.4" fill="none" stroke="#000" stroke-width="1.25"/>
<text x="315.9" y="86.9" textLength="8" lengthAdjust="spacingAndGlyphs" font-family='"Liberation Sans", sans-serif' font-size="13.5" font-weight="normal" font-style="normal" fill="#000" stroke="#000" stroke-width="0.5">6</text>
<path d="M325.4 79L332.2 85.8M325.4 85.8L332.2 79" fill="none" stroke="#000" stroke-width="1.25"/>
<text x="333.8" y="86.9" textLength="13.3" lengthAdjust="spacingAndGlyphs" font-family='"Liberation Sans", sans-serif' font-size="13.5" font-weight="normal" font-style="normal" fill="#000" stroke="#000" stroke-width="0.5">10</text>
<text x="348.2" y="80.9" textLength="11.2" lengthAdjust="spacingAndGlyphs" font-family='"Liberation Sans", sans-serif' font-size="10.2" font-weight="bold" font-style="normal" fill="#000" stroke="#000" stroke-width="0.2">14</text>
<text x="360.3" y="86.9" textLength="7.4" lengthAdjust="spacingAndGlyphs" font-family='"Liberation Serif", serif' font-size="15.6" font-weight="normal" font-style="italic" fill="#000" stroke="#000" stroke-width="0.45">h</text>
<text x="368.5" y="80.9" textLength="11.5" lengthAdjust="spacingAndGlyphs" font-family='"Liberation Sans", sans-serif' font-size="10.2" font-weight="bold" font-style="normal" fill="#000" stroke="#000" stroke-width="0.2">−1</text>
<text x="381.3" y="86.9" textLength="9.8" lengthAdjust="spacingAndGlyphs" font-family='"Liberation Serif", serif' font-size="14.4" font-weight="bold" fill="#000" stroke="#000" stroke-width="0.4">M</text>
<circle cx="395.9" cy="88.3" r="3.2" fill="none" stroke="#000" stroke-width="1.15"/>
<circle cx="395.9" cy="88.3" r="0.9" fill="#000"/>
<text x="401.3" y="86.9" textLength="4" lengthAdjust="spacingAndGlyphs" font-family='"Liberation Serif", serif' font-size="15.5" font-weight="normal" font-style="normal" fill="#000" stroke="#000" stroke-width="0.4">)</text>
<text x="625.2" y="86.9" textLength="7.6" lengthAdjust="spacingAndGlyphs" font-family='"Liberation Sans", sans-serif' font-size="13.7" font-weight="normal" font-style="normal" fill="#000" stroke="#000" stroke-width="0.55">9</text>
<text x="639.6" y="86.9" textLength="53.7" lengthAdjust="spacingAndGlyphs" font-family='"Liberation Serif", serif' font-size="14.4" font-weight="normal" font-style="normal" fill="#000" stroke="#000" stroke-width="0.5">clusters</text>
<text x="700.6" y="86.9" textLength="4" lengthAdjust="spacingAndGlyphs" font-family='"Liberation Serif", serif' font-size="15.5" font-weight="normal" font-style="normal" fill="#000" stroke="#000" stroke-width="0.4">(</text>
<text x="705" y="86.9" textLength="10.1" lengthAdjust="spacingAndGlyphs" font-family='"Liberation Serif", serif' font-size="14.4" font-weight="bold" fill="#000" stroke="#000" stroke-width="0.4">M</text>
<path d="M715.4 76.4L723.4 79.3L715.4 82.2M715.4 84.6H723.4M715.4 87H723.4" fill="none" stroke="#000" stroke-width="1.2"/>
<text x="725" y="86.9" textLength="8" lengthAdjust="spacingAndGlyphs" font-family='"Liberation Sans", sans-serif' font-size="13.5" font-weight="normal" font-style="normal" fill="#000" stroke="#000" stroke-width="0.5">6</text>
<path d="M734.5 79L741.3 85.8M734.5 85.8L741.3 79" fill="none" stroke="#000" stroke-width="1.25"/>
<text x="742.9" y="86.9" textLength="13.3" lengthAdjust="spacingAndGlyphs" font-family='"Liberation Sans", sans-serif' font-size="13.5" font-weight="normal" font-style="normal" fill="#000" stroke="#000" stroke-width="0.5">10</text>
<text x="757.3" y="80.9" textLength="11.2" lengthAdjust="spacingAndGlyphs" font-family='"Liberation Sans", sans-serif' font-size="10.2" font-weight="bold" font-style="normal" fill="#000" stroke="#000" stroke-width="0.2">14</text>
<text x="769.4" y="86.9" textLength="7.4" lengthAdjust="spacingAndGlyphs" font-family='"Liberation Serif", serif' font-size="15.6" font-weight="normal" font-style="italic" fill="#000" stroke="#000" stroke-width="0.45">h</text>
<text x="777.6" y="80.9" textLength="11.5" lengthAdjust="spacingAndGlyphs" font-family='"Liberation Sans", sans-serif' font-size="10.2" font-weight="bold" font-style="normal" fill="#000" stroke="#000" stroke-width="0.2">−1</text>
<text x="790.4" y="86.9" textLength="9.8" lengthAdjust="spacingAndGlyphs" font-family='"Liberation Serif", serif' font-size="14.4" font-weight="bold" fill="#000" stroke="#000" stroke-width="0.4">M</text>
<circle cx="805" cy="88.3" r="3.2" fill="none" stroke="#000" stroke-width="1.15"/>
<circle cx="805" cy="88.3" r="0.9" fill="#000"/>
<text x="810.4" y="86.9" textLength="4" lengthAdjust="spacingAndGlyphs" font-family='"Liberation Serif", serif' font-size="15.5" font-weight="normal" font-style="normal" fill="#000" stroke="#000" stroke-width="0.4">)</text>
<path d="M86.4 242.8H89M96.9 242.8H107M114.9 242.8H121" fill="none" stroke="#0000ff" stroke-width="1.4"/>
<path d="M511.9 242.8H522M529.9 242.8H538" fill="none" stroke="#0000ff" stroke-width="1.4"/>
<path d="M86.4 276.7H121" fill="none" stroke="#ff0000" stroke-width="1.5"/>
<path d="M503.4 276.7H538" fill="none" stroke="#ff0000" stroke-width="1.5"/>
<text x="131" y="248.8" textLength="19.5" lengthAdjust="spacingAndGlyphs" font-family='"Liberation Serif", serif' font-size="15.3" font-weight="bold" fill="#0000ff" stroke="#0000ff" stroke-width="0.5">SIS</text>
<text x="157.9" y="247.2" textLength="3.9" lengthAdjust="spacingAndGlyphs" font-family='"Liberation Serif", serif' font-size="15.5" font-weight="normal" font-style="normal" fill="#0000ff" stroke="#0000ff" stroke-width="0.45">(</text>
<text x="162.2" y="248" textLength="7.9" lengthAdjust="spacingAndGlyphs" font-family='"Liberation Serif", serif' font-size="14.5" font-weight="normal" font-style="italic" fill="#0000ff" stroke="#0000ff" stroke-width="0.45">χ</text>
<text x="170.5" y="241.6" textLength="5.3" lengthAdjust="spacingAndGlyphs" font-family='"Liberation Sans", sans-serif' font-size="10.2" font-weight="bold" font-style="normal" fill="#0000ff" stroke="#0000ff" stroke-width="0.2">2</text>
<path d="M175.8 251.2L184.3 236.8" fill="none" stroke="#0000ff" stroke-width="1.5"/>
<text x="184.7" y="248.8" textLength="33.6" lengthAdjust="spacingAndGlyphs" font-family='"Liberation Serif", serif' font-size="15" font-weight="normal" font-style="normal" fill="#0000ff" stroke="#0000ff" stroke-width="0.5">d.o.f.</text>
<path d="M219.3 243.5H227.7M219.3 246H227.7" fill="none" stroke="#0000ff" stroke-width="1.2"/>
<text x="229.1" y="248.8" textLength="25.4" lengthAdjust="spacingAndGlyphs" font-family='"Liberation Serif", serif' font-size="14.4" font-weight="normal" font-style="normal" fill="#0000ff" stroke="#0000ff" stroke-width="0.5">44.6</text>
<path d="M255.1 251.2L263.2 236.8" fill="none" stroke="#0000ff" stroke-width="1.5"/>
<text x="265.1" y="248.8" textLength="14.4" lengthAdjust="spacingAndGlyphs" font-family='"Liberation Serif", serif' font-size="14.4" font-weight="normal" font-style="normal" fill="#0000ff" stroke="#0000ff" stroke-width="0.5">14</text>
<text x="281.3" y="247.2" textLength="4.2" lengthAdjust="spacingAndGlyphs" font-family='"Liberation Serif", serif' font-size="15.5" font-weight="normal" font-style="normal" fill="#0000ff" stroke="#0000ff" stroke-width="0.45">)</text>
<text x="547.9" y="248.8" textLength="19.5" lengthAdjust="spacingAndGlyphs" font-family='"Liberation Serif", serif' font-size="15.3" font-weight="bold" fill="#0000ff" stroke="#0000ff" stroke-width="0.5">SIS</text>
<text x="574.8" y="247.2" textLength="3.9" lengthAdjust="spacingAndGlyphs" font-family='"Liberation Serif", serif' font-size="15.5" font-weight="normal" font-style="normal" fill="#0000ff" stroke="#0000ff" stroke-width="0.45">(</text>
<text x="579.1" y="248" textLength="7.9" lengthAdjust="spacingAndGlyphs" font-family='"Liberation Serif", serif' font-size="14.5" font-weight="normal" font-style="italic" fill="#0000ff" stroke="#0000ff" stroke-width="0.45">χ</text>
<text x="587.4" y="241.6" textLength="5.3" lengthAdjust="spacingAndGlyphs" font-family='"Liberation Sans", sans-serif' font-size="10.2" font-weight="bold" font-style="normal" fill="#0000ff" stroke="#0000ff" stroke-width="0.2">2</text>
<path d="M592.7 251.2L601.2 236.8" fill="none" stroke="#0000ff" stroke-width="1.5"/>
<text x="601.6" y="248.8" textLength="33.6" lengthAdjust="spacingAndGlyphs" font-family='"Liberation Serif", serif' font-size="15" font-weight="normal" font-style="normal" fill="#0000ff" stroke="#0000ff" stroke-width="0.5">d.o.f.</text>
<path d="M636.2 243.5H644.6M636.2 246H644.6" fill="none" stroke="#0000ff" stroke-width="1.2"/>
<text x="646" y="248.8" textLength="20.2" lengthAdjust="spacingAndGlyphs" font-family='"Liberation Serif", serif' font-size="14.4" font-weight="normal" font-style="normal" fill="#0000ff" stroke="#0000ff" stroke-width="0.5">136</text>
<path d="M668.2 251.2L676.3 236.8" fill="none" stroke="#0000ff" stroke-width="1.5"/>
<text x="678.2" y="248.8" textLength="14.4" lengthAdjust="spacingAndGlyphs" font-family='"Liberation Serif", serif' font-size="14.4" font-weight="normal" font-style="normal" fill="#0000ff" stroke="#0000ff" stroke-width="0.5">14</text>
<text x="694.4" y="247.2" textLength="4.2" lengthAdjust="spacingAndGlyphs" font-family='"Liberation Serif", serif' font-size="15.5" font-weight="normal" font-style="normal" fill="#0000ff" stroke="#0000ff" stroke-width="0.45">)</text>
<text x="131" y="282.8" textLength="25.7" lengthAdjust="spacingAndGlyphs" font-family='"Liberation Serif", serif' font-size="15.3" font-weight="bold" fill="#ff0000" stroke="#ff0000" stroke-width="0.5">NFW</text>
<text x="164.1" y="281.2" textLength="3.9" lengthAdjust="spacingAndGlyphs" font-family='"Liberation Serif", serif' font-size="15.5" font-weight="normal" font-style="normal" fill="#ff0000" stroke="#ff0000" stroke-width="0.45">(</text>
<text x="168.4" y="282" textLength="7.9" lengthAdjust="spacingAndGlyphs" font-family='"Liberation Serif", serif' font-size="14.5" font-weight="normal" font-style="italic" fill="#ff0000" stroke="#ff0000" stroke-width="0.45">χ</text>
<text x="176.7" y="275.6" textLength="5.3" lengthAdjust="spacingAndGlyphs" font-family='"Liberation Sans", sans-serif' font-size="10.2" font-weight="bold" font-style="normal" fill="#ff0000" stroke="#ff0000" stroke-width="0.2">2</text>
<path d="M182 285.2L190.5 270.8" fill="none" stroke="#ff0000" stroke-width="1.5"/>
<text x="190.9" y="282.8" textLength="33.6" lengthAdjust="spacingAndGlyphs" font-family='"Liberation Serif", serif' font-size="15" font-weight="normal" font-style="normal" fill="#ff0000" stroke="#ff0000" stroke-width="0.5">d.o.f.</text>
<path d="M225.5 277.5H233.9M225.5 280H233.9" fill="none" stroke="#ff0000" stroke-width="1.2"/>
<text x="235.3" y="282.8" textLength="25.4" lengthAdjust="spacingAndGlyphs" font-family='"Liberation Serif", serif' font-size="14.4" font-weight="normal" font-style="normal" fill="#ff0000" stroke="#ff0000" stroke-width="0.5">3.74</text>
<path d="M261.3 285.2L269.4 270.8" fill="none" stroke="#ff0000" stroke-width="1.5"/>
<text x="271.3" y="282.8" textLength="14.4" lengthAdjust="spacingAndGlyphs" font-family='"Liberation Serif", serif' font-size="14.4" font-weight="normal" font-style="normal" fill="#ff0000" stroke="#ff0000" stroke-width="0.5">13</text>
<text x="287.5" y="281.2" textLength="4.2" lengthAdjust="spacingAndGlyphs" font-family='"Liberation Serif", serif' font-size="15.5" font-weight="normal" font-style="normal" fill="#ff0000" stroke="#ff0000" stroke-width="0.45">)</text>
<text x="547.9" y="282.8" textLength="25.7" lengthAdjust="spacingAndGlyphs" font-family='"Liberation Serif", serif' font-size="15.3" font-weight="bold" fill="#ff0000" stroke="#ff0000" stroke-width="0.5">NFW</text>
<text x="581" y="281.2" textLength="3.9" lengthAdjust="spacingAndGlyphs" font-family='"Liberation Serif", serif' font-size="15.5" font-weight="normal" font-style="normal" fill="#ff0000" stroke="#ff0000" stroke-width="0.45">(</text>
<text x="585.3" y="282" textLength="7.9" lengthAdjust="spacingAndGlyphs" font-family='"Liberation Serif", serif' font-size="14.5" font-weight="normal" font-style="italic" fill="#ff0000" stroke="#ff0000" stroke-width="0.45">χ</text>
<text x="593.6" y="275.6" textLength="5.3" lengthAdjust="spacingAndGlyphs" font-family='"Liberation Sans", sans-serif' font-size="10.2" font-weight="bold" font-style="normal" fill="#ff0000" stroke="#ff0000" stroke-width="0.2">2</text>
<path d="M598.9 285.2L607.4 270.8" fill="none" stroke="#ff0000" stroke-width="1.5"/>
<text x="607.8" y="282.8" textLength="33.6" lengthAdjust="spacingAndGlyphs" font-family='"Liberation Serif", serif' font-size="15" font-weight="normal" font-style="normal" fill="#ff0000" stroke="#ff0000" stroke-width="0.5">d.o.f.</text>
<path d="M642.4 277.5H650.8M642.4 280H650.8" fill="none" stroke="#ff0000" stroke-width="1.2"/>
<text x="652.2" y="282.8" textLength="25.4" lengthAdjust="spacingAndGlyphs" font-family='"Liberation Serif", serif' font-size="14.4" font-weight="normal" font-style="normal" fill="#ff0000" stroke="#ff0000" stroke-width="0.5">9.08</text>
<path d="M678.2 285.2L686.3 270.8" fill="none" stroke="#ff0000" stroke-width="1.5"/>
<text x="688.2" y="282.8" textLength="14.4" lengthAdjust="spacingAndGlyphs" font-family='"Liberation Serif", serif' font-size="14.4" font-weight="normal" font-style="normal" fill="#ff0000" stroke="#ff0000" stroke-width="0.5">13</text>
<text x="704.4" y="281.2" textLength="4.2" lengthAdjust="spacingAndGlyphs" font-family='"Liberation Serif", serif' font-size="15.5" font-weight="normal" font-style="normal" fill="#ff0000" stroke="#ff0000" stroke-width="0.45">)</text>
<text x="131.3" y="311.1" textLength="6.7" lengthAdjust="spacingAndGlyphs" font-family='"Liberation Serif", serif' font-size="14" font-weight="bold" fill="#ff0000" stroke="#ff0000" stroke-width="0.25">c</text>
<text x="138.5" y="315.4" textLength="13.5" lengthAdjust="spacingAndGlyphs" font-family='"Liberation Serif", serif' font-size="10.8" font-weight="normal" font-style="normal" fill="#ff0000" stroke="#ff0000" stroke-width="0.5">vir</text>
<path d="M153.3 305.8H161.8M153.3 308.3H161.8" fill="none" stroke="#ff0000" stroke-width="1.2"/>
<text x="163" y="311.1" textLength="26.1" lengthAdjust="spacingAndGlyphs" font-family='"Liberation Sans", sans-serif' font-size="14.1" font-weight="normal" font-style="normal" fill="#ff0000" stroke="#ff0000" stroke-width="0.5">4.68</text>
<text x="191.3" y="304.8" textLength="26.5" lengthAdjust="spacingAndGlyphs" font-family='"Liberation Sans", sans-serif' font-size="10.4" font-weight="bold" font-style="normal" fill="#ff0000" stroke="#ff0000" stroke-width="0.3">+0.55</text>
<text x="191.3" y="315.4" textLength="29.8" lengthAdjust="spacingAndGlyphs" font-family='"Liberation Sans", sans-serif' font-size="10.4" font-weight="bold" font-style="normal" fill="#ff0000" stroke="#ff0000" stroke-width="0.3">−0.50,</text>
<text x="222" y="311.1" textLength="9.3" lengthAdjust="spacingAndGlyphs" font-family='"Liberation Serif", serif' font-size="14.4" font-weight="bold" fill="#ff0000" stroke="#ff0000" stroke-width="0.4">M</text>
<text x="232.1" y="315.4" textLength="13" lengthAdjust="spacingAndGlyphs" font-family='"Liberation Serif", serif' font-size="10.8" font-weight="normal" font-style="normal" fill="#ff0000" stroke="#ff0000" stroke-width="0.5">vir</text>
<path d="M246 305.8H254.4M246 308.3H254.4" fill="none" stroke="#ff0000" stroke-width="1.2"/>
<text x="255.9" y="311.1" textLength="26.1" lengthAdjust="spacingAndGlyphs" font-family='"Liberation Sans", sans-serif' font-size="14.1" font-weight="normal" font-style="normal" fill="#ff0000" stroke="#ff0000" stroke-width="0.5">4.79</text>
<text x="283.7" y="304.8" textLength="27" lengthAdjust="spacingAndGlyphs" font-family='"Liberation Sans", sans-serif' font-size="10.4" font-weight="bold" font-style="normal" fill="#ff0000" stroke="#ff0000" stroke-width="0.3">+0.46</text>
<text x="283.7" y="315.4" textLength="27" lengthAdjust="spacingAndGlyphs" font-family='"Liberation Sans", sans-serif' font-size="10.4" font-weight="bold" font-style="normal" fill="#ff0000" stroke="#ff0000" stroke-width="0.3">−0.42</text>
<path d="M313 303.4L319.8 310.2M313 310.2L319.8 303.4" fill="none" stroke="#ff0000" stroke-width="1.25"/>
<text x="321.7" y="311.1" textLength="12.6" lengthAdjust="spacingAndGlyphs" font-family='"Liberation Sans", sans-serif' font-size="14.1" font-weight="normal" font-style="normal" fill="#ff0000" stroke="#ff0000" stroke-width="0.5">10</text>
<text x="336" y="306" textLength="11.5" lengthAdjust="spacingAndGlyphs" font-family='"Liberation Sans", sans-serif' font-size="10.2" font-weight="bold" font-style="normal" fill="#ff0000" stroke="#ff0000" stroke-width="0.2">14</text>
<text x="348.7" y="311.1" textLength="7.6" lengthAdjust="spacingAndGlyphs" font-family='"Liberation Serif", serif' font-size="15.6" font-weight="normal" font-style="italic" fill="#ff0000" stroke="#ff0000" stroke-width="0.45">h</text>
<text x="357.4" y="306" textLength="11.5" lengthAdjust="spacingAndGlyphs" font-family='"Liberation Sans", sans-serif' font-size="10.2" font-weight="bold" font-style="normal" fill="#ff0000" stroke="#ff0000" stroke-width="0.2">−1</text>
<text x="370.1" y="311.1" textLength="9.8" lengthAdjust="spacingAndGlyphs" font-family='"Liberation Serif", serif' font-size="14.4" font-weight="bold" fill="#ff0000" stroke="#ff0000" stroke-width="0.4">M</text>
<circle cx="384.5" cy="312.4" r="3.2" fill="none" stroke="#ff0000" stroke-width="1.15"/>
<circle cx="384.5" cy="312.4" r="0.9" fill="#ff0000"/>
<text x="548.2" y="311.1" textLength="6.7" lengthAdjust="spacingAndGlyphs" font-family='"Liberation Serif", serif' font-size="14" font-weight="bold" fill="#ff0000" stroke="#ff0000" stroke-width="0.25">c</text>
<text x="555.4" y="315.4" textLength="13.5" lengthAdjust="spacingAndGlyphs" font-family='"Liberation Serif", serif' font-size="10.8" font-weight="normal" font-style="normal" fill="#ff0000" stroke="#ff0000" stroke-width="0.5">vir</text>
<path d="M570.2 305.8H578.7M570.2 308.3H578.7" fill="none" stroke="#ff0000" stroke-width="1.2"/>
<text x="579.9" y="311.1" textLength="26.1" lengthAdjust="spacingAndGlyphs" font-family='"Liberation Sans", sans-serif' font-size="14.1" font-weight="normal" font-style="normal" fill="#ff0000" stroke="#ff0000" stroke-width="0.5">3.58</text>
<text x="608.2" y="304.8" textLength="26.5" lengthAdjust="spacingAndGlyphs" font-family='"Liberation Sans", sans-serif' font-size="10.4" font-weight="bold" font-style="normal" fill="#ff0000" stroke="#ff0000" stroke-width="0.3">+0.34</text>
<text x="608.2" y="315.4" textLength="29.8" lengthAdjust="spacingAndGlyphs" font-family='"Liberation Sans", sans-serif' font-size="10.4" font-weight="bold" font-style="normal" fill="#ff0000" stroke="#ff0000" stroke-width="0.3">−0.32,</text>
<text x="638.9" y="311.1" textLength="9.3" lengthAdjust="spacingAndGlyphs" font-family='"Liberation Serif", serif' font-size="14.4" font-weight="bold" fill="#ff0000" stroke="#ff0000" stroke-width="0.4">M</text>
<text x="649" y="315.4" textLength="13" lengthAdjust="spacingAndGlyphs" font-family='"Liberation Serif", serif' font-size="10.8" font-weight="normal" font-style="normal" fill="#ff0000" stroke="#ff0000" stroke-width="0.5">vir</text>
<path d="M662.9 305.8H671.3M662.9 308.3H671.3" fill="none" stroke="#ff0000" stroke-width="1.2"/>
<text x="672.8" y="311.1" textLength="26.1" lengthAdjust="spacingAndGlyphs" font-family='"Liberation Sans", sans-serif' font-size="14.1" font-weight="normal" font-style="normal" fill="#ff0000" stroke="#ff0000" stroke-width="0.5">9.68</text>
<text x="700.6" y="304.8" textLength="27" lengthAdjust="spacingAndGlyphs" font-family='"Liberation Sans", sans-serif' font-size="10.4" font-weight="bold" font-style="normal" fill="#ff0000" stroke="#ff0000" stroke-width="0.3">+0.80</text>
<text x="700.6" y="315.4" textLength="27" lengthAdjust="spacingAndGlyphs" font-family='"Liberation Sans", sans-serif' font-size="10.4" font-weight="bold" font-style="normal" fill="#ff0000" stroke="#ff0000" stroke-width="0.3">−0.74</text>
<path d="M729.9 303.4L736.7 310.2M729.9 310.2L736.7 303.4" fill="none" stroke="#ff0000" stroke-width="1.25"/>
<text x="738.6" y="311.1" textLength="12.6" lengthAdjust="spacingAndGlyphs" font-family='"Liberation Sans", sans-serif' font-size="14.1" font-weight="normal" font-style="normal" fill="#ff0000" stroke="#ff0000" stroke-width="0.5">10</text>
<text x="752.9" y="306" textLength="11.5" lengthAdjust="spacingAndGlyphs" font-family='"Liberation Sans", sans-serif' font-size="10.2" font-weight="bold" font-style="normal" fill="#ff0000" stroke="#ff0000" stroke-width="0.2">14</text>
<text x="765.6" y="311.1" textLength="7.6" lengthAdjust="spacingAndGlyphs" font-family='"Liberation Serif", serif' font-size="15.6" font-weight="normal" font-style="italic" fill="#ff0000" stroke="#ff0000" stroke-width="0.45">h</text>
<text x="774.3" y="306" textLength="11.5" lengthAdjust="spacingAndGlyphs" font-family='"Liberation Sans", sans-serif' font-size="10.2" font-weight="bold" font-style="normal" fill="#ff0000" stroke="#ff0000" stroke-width="0.2">−1</text>
<text x="787" y="311.1" textLength="9.8" lengthAdjust="spacingAndGlyphs" font-family='"Liberation Serif", serif' font-size="14.4" font-weight="bold" fill="#ff0000" stroke="#ff0000" stroke-width="0.4">M</text>
<circle cx="801.4" cy="312.4" r="3.2" fill="none" stroke="#ff0000" stroke-width="1.15"/>
<circle cx="801.4" cy="312.4" r="0.9" fill="#ff0000"/>
</g>
</svg>
</body></html>
